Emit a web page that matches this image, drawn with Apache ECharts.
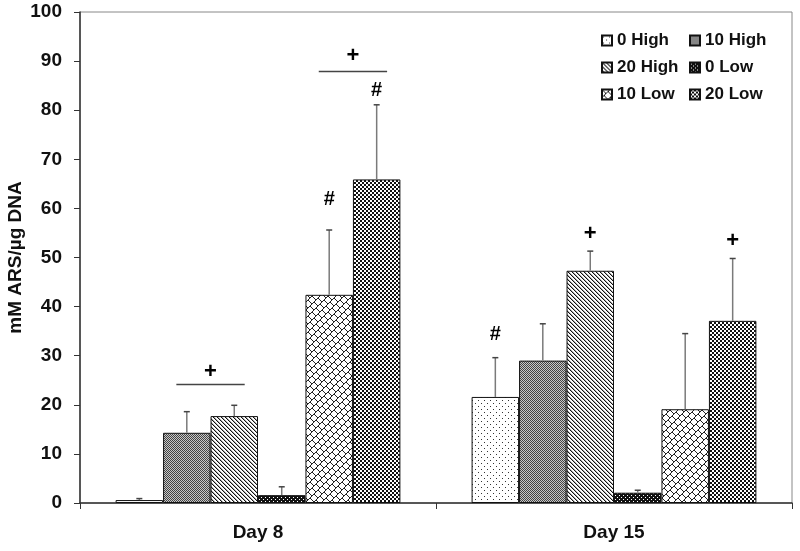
<!DOCTYPE html>
<html>
<head>
<meta charset="utf-8">
<script src="https://cdn.jsdelivr.net/npm/echarts@6/dist/echarts.min.js"></script>
<style>
html,body{margin:0;padding:0;background:#fff;}
#chart{width:800px;height:551px;}
</style>
</head>
<body>
<div id="chart"></div>
<script>
// ---- data ----
const categories = ['Day 8', 'Day 15'];
const seriesNames = ['0 High', '10 High', '20 High', '0 Low', '10 Low', '20 Low'];
const values0High  = [0.6, 21.6];
const values10High = [14.3, 29.0];
const values20High = [17.7, 47.3];
const values0Low   = [1.6, 2.1];
const values10Low  = [42.4, 19.1];
const values20Low  = [65.9, 37.1];
const err0High  = [0.3, 8.0];
const err10High = [4.3, 7.5];
const err20High = [2.2, 4.0];
const err0Low   = [1.7, 0.5];
const err10Low  = [13.2, 15.4];
const err20Low  = [15.2, 12.7];
const yTicks = [0, 10, 20, 30, 40, 50, 60, 70, 80, 90, 100];
// significance markers: category index, bar position (series index, .5 = between), value, symbol
const markCats    = [0, 0, 0, 0, 1, 1, 1];
const markPos     = [1.5, 4.5, 4, 5, 0, 2, 5];
const markValues  = [26.6, 91.0, 61.8, 84.0, 34.4, 54.8, 53.4];
const markSymbols = ['+', '+', '#', '#', '#', '+', '+'];
// horizontal brackets under the "+" markers
const lineCats   = [0, 0];
const linePos    = [1.5, 4.5];
const lineValues = [24.2, 88.0];

const allValues = [values0High, values10High, values20High, values0Low, values10Low, values20Low];
const allErrors = [err0High, err10High, err20High, err0Low, err10Low, err20Low];

// ---- patterns ----
function makePattern(size, draw) {
  const c = document.createElement('canvas');
  c.width = size; c.height = size;
  const ctx = c.getContext('2d');
  draw(ctx, size);
  return { image: c, repeat: 'repeat' };
}
function px(ctx, x, y, col) { ctx.fillStyle = col; ctx.fillRect(x, y, 1, 1); }
const patterns = [
  // 0 High: sparse dots
  makePattern(6, (ctx, s) => {
    ctx.fillStyle = '#fff'; ctx.fillRect(0, 0, s, s);
    px(ctx, 1, 1, '#333'); px(ctx, 4, 4, '#333');
  }),
  // 10 High: fine gray checker
  makePattern(2, (ctx, s) => {
    ctx.fillStyle = '#c8c8c8'; ctx.fillRect(0, 0, s, s);
    px(ctx, 0, 0, '#444'); px(ctx, 1, 1, '#444');
  }),
  // 20 High: diagonal "\" stripes
  makePattern(4, (ctx, s) => {
    ctx.fillStyle = '#fff'; ctx.fillRect(0, 0, s, s);
    for (let i = 0; i < s; i++) { px(ctx, i, i, '#111'); px(ctx, (i + 1) % s, i, '#aaa'); }
  }),
  // 0 Low: black with white dots
  makePattern(4, (ctx, s) => {
    ctx.fillStyle = '#111'; ctx.fillRect(0, 0, s, s);
    px(ctx, 1, 1, '#fff'); px(ctx, 3, 3, '#fff');
  }),
  // 10 Low: diagonal brick
  makePattern(16, (ctx, s) => {
    ctx.fillStyle = '#fff'; ctx.fillRect(0, 0, s, s);
    for (let x = 0; x < s; x++) for (let y = 0; y < s; y++) {
      const sm = x + y;
      const d = ((x - y) % 8 + 8) % 8;
      const band = Math.floor(sm / 8) % 2;
      if (sm % 8 === 7) px(ctx, x, y, '#222');
      else if (d === (band === 0 ? 0 : 4)) px(ctx, x, y, '#222');
    }
  }),
  // 20 Low: checkerboard
  makePattern(4, (ctx, s) => {
    ctx.fillStyle = '#fff'; ctx.fillRect(0, 0, s, s);
    ctx.fillStyle = '#111'; ctx.fillRect(0, 0, 2, 2); ctx.fillRect(2, 2, 2, 2);
  })
];

const FONT = '"Liberation Sans", Arial, sans-serif';
const CAT_GAP = 0.2;
const NB = seriesNames.length;

const barSeries = seriesNames.map((name, i) => ({
  name: name,
  type: 'bar',
  data: allValues[i],
  barGap: '0%',
  barCategoryGap: '20%',
  itemStyle: { color: patterns[i], borderColor: '#111', borderWidth: 1 },
  emphasis: { disabled: true },
  z: 2
}));

// error bars data: [cat, seriesIdx, value, err]
const errData = [];
allValues.forEach((vals, s) => vals.forEach((v, c) => errData.push([c, s, v, allErrors[s][c]])));

function barX(api, cat, pos) {
  const center = api.coord([cat, 0])[0];
  const catW = api.size([1, 0])[0];
  const bw = catW * (1 - CAT_GAP) / NB;
  return { x: center + (pos - (NB - 1) / 2) * bw, bw: bw };
}

const errorSeries = {
  type: 'custom',
  name: 'err',
  data: errData,
  z: 5,
  silent: true,
  renderItem: function (params, api) {
    const cat = api.value(0), s = api.value(1), v = api.value(2), e = api.value(3);
    const bx = barX(api, cat, s);
    const y0 = api.coord([cat, v])[1];
    const y1 = api.coord([cat, v + e])[1];
    return {
      type: 'group',
      children: [
        { type: 'line', shape: { x1: bx.x, y1: y0, x2: bx.x, y2: y1 }, style: { stroke: '#7a7a7a', lineWidth: 1.5 } },
        { type: 'line', shape: { x1: bx.x - 3, y1: y1, x2: bx.x + 3, y2: y1 }, style: { stroke: '#444', lineWidth: 1.5 } }
      ]
    };
  }
};

const markData = markCats.map((c, i) => [c, markPos[i], markValues[i], i]);
const markSeries = {
  type: 'custom',
  name: 'marks',
  data: markData,
  z: 6,
  silent: true,
  renderItem: function (params, api) {
    const cat = api.value(0), pos = api.value(1), v = api.value(2), idx = api.value(3);
    const bx = barX(api, cat, pos);
    const y = api.coord([cat, v])[1];
    const sym = markSymbols[idx];
    return {
      type: 'text',
      style: {
        text: sym, x: bx.x, y: y, align: 'center', verticalAlign: 'middle',
        font: 'bold ' + (sym === '+' ? 22 : 20) + 'px ' + FONT, fill: '#000'
      }
    };
  }
};

const lineData = lineCats.map((c, i) => [c, linePos[i], lineValues[i]]);
const lineSeries = {
  type: 'custom',
  name: 'brackets',
  data: lineData,
  z: 6,
  silent: true,
  renderItem: function (params, api) {
    const cat = api.value(0), pos = api.value(1), v = api.value(2);
    const bx = barX(api, cat, pos);
    const y = Math.round(api.coord([cat, v])[1]) + 0.5;
    return {
      type: 'line',
      shape: { x1: bx.x - 0.72 * bx.bw, y1: y, x2: bx.x + 0.72 * bx.bw, y2: y },
      style: { stroke: '#444', lineWidth: 1.3 }
    };
  }
};

const legendText = { fontFamily: FONT, fontWeight: 'bold', fontSize: 17, color: '#111' };
const chart = echarts.init(document.getElementById('chart'), null, { renderer: 'canvas' });
chart.setOption({
  animation: false,
  backgroundColor: '#fff',
  grid: { left: 80, right: 8, top: 12, bottom: 48, show: true, borderColor: '#888', borderWidth: 1,
          backgroundColor: 'transparent', containLabel: false, outerBoundsMode: 'none' },
  legend: [
    {
      data: ['0 High', '20 High', '10 Low'], orient: 'vertical', left: 601, top: 32,
      itemWidth: 10, itemHeight: 10, itemGap: 10, icon: 'rect', selectedMode: false,
      textStyle: legendText, padding: 0
    },
    {
      data: ['10 High', '0 Low', '20 Low'], orient: 'vertical', left: 689, top: 32,
      itemWidth: 10, itemHeight: 10, itemGap: 10, icon: 'rect', selectedMode: false,
      textStyle: legendText, padding: 0
    }
  ],
  xAxis: {
    type: 'category',
    data: categories,
    boundaryGap: true,
    axisLine: { lineStyle: { color: '#333', width: 1.5 } },
    axisTick: { show: true, length: 6, lineStyle: { color: '#333' } },
    axisLabel: { margin: 20, fontFamily: FONT, fontWeight: 'bold', fontSize: 19, color: '#111' }
  },
  yAxis: {
    type: 'value',
    min: yTicks[0],
    max: yTicks[yTicks.length - 1],
    interval: yTicks[1] - yTicks[0],
    name: 'mM ARS/µg DNA',
    nameLocation: 'middle',
    nameGap: 55,
    nameRotate: 90,
    nameMoveOverlap: false,
    nameTextStyle: { fontFamily: FONT, fontWeight: 'bold', fontSize: 19, color: '#111' },
    axisLine: { show: true, lineStyle: { color: '#333', width: 1.5 } },
    axisTick: { show: true, length: 6, lineStyle: { color: '#333' } },
    splitLine: { show: false },
    axisLabel: { margin: 18, fontFamily: FONT, fontWeight: 'bold', fontSize: 19, color: '#111' }
  },
  series: barSeries.concat([errorSeries, lineSeries, markSeries])
});
</script>
</body>
</html>
